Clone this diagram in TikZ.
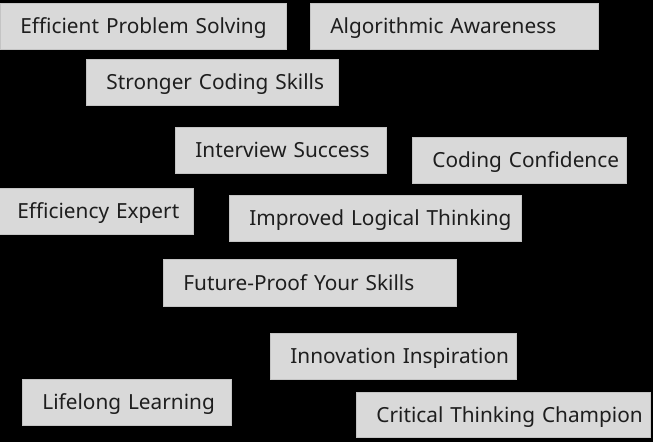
\documentclass[tikz,border=0pt]{standalone}
\usepackage{fontspec}
\setmainfont{Noto Sans}
\definecolor{boxfill}{HTML}{D9D9D9}
\definecolor{boxline}{HTML}{C4C4C4}
\definecolor{txt}{HTML}{1E1E1E}
\begin{document}
\begin{tikzpicture}[x=0.75pt,y=-0.75pt,
  tag/.style={draw=boxline,line width=0.6pt,fill=boxfill,text=txt,anchor=north west,
    inner xsep=15pt,inner ysep=0pt,align=left,text height=11.3pt,text depth=0pt,
    font=\fontsize{15.6pt}{18pt}\selectfont}]
\fill[black] (0,0) rectangle (653,442);
\useasboundingbox (0,0) rectangle (653,442);
\node[tag,text width=184.5pt,minimum height=34.5pt] (eps) at (0,3) {\mbox{Efficient Problem Solving}};
\node[tag,text width=186pt,minimum height=34.5pt] (aa) at (310,3) {\mbox{Algorithmic Awareness}};
\node[tag,text width=159pt,minimum height=34.5pt] (scs) at (86,59) {\mbox{Stronger Coding Skills}};
\node[tag,text width=128.25pt,minimum height=34.5pt] (is) at (175,127) {\mbox{Interview Success}};
\node[tag,text width=130.5pt,minimum height=34.5pt] (cc) at (412,137) {\mbox{Coding Confidence}};
\node[tag,text width=117pt,minimum height=34.5pt] (ee) at (-3,188) {\mbox{Efficiency Expert}};
\node[tag,text width=189pt,minimum height=34.5pt] (ilt) at (229,195) {\mbox{Improved Logical Thinking}};
\node[tag,text width=189.75pt,minimum height=35.25pt] (fp) at (163,259) {\mbox{Future-Proof Your Skills}};
\node[tag,text width=154.5pt,minimum height=34.5pt] (ii) at (270,333) {\mbox{Innovation Inspiration}};
\node[tag,text width=126.75pt,minimum height=34.5pt] (ll) at (22,379) {\mbox{Lifelong Learning}};
\node[tag,text width=190.5pt,minimum height=33.75pt] (ctc) at (356,392) {\mbox{Critical Thinking Champion}};
\end{tikzpicture}
\end{document}
